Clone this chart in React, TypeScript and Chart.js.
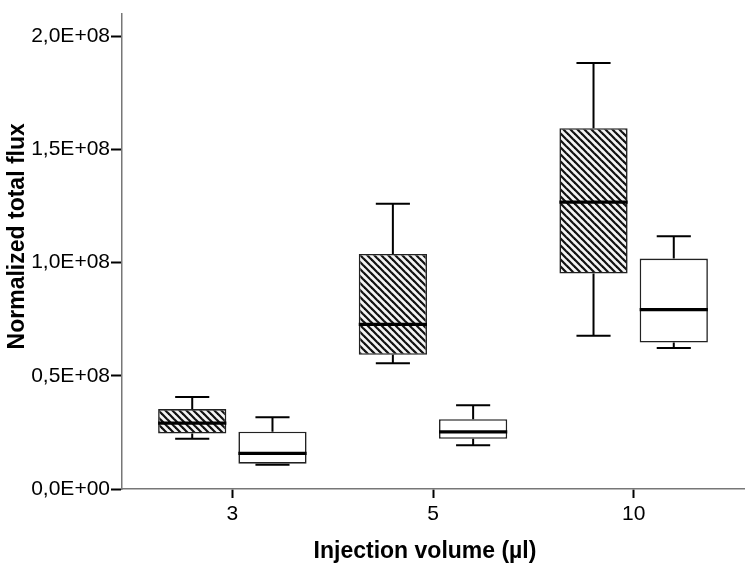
import React, { useEffect, useRef } from 'react';
import { Chart, registerables } from 'chart.js';

Chart.register(...registerables);

// ---- Data ----
const categories = ['3', '5', '10'];

// Hatched series (min, Q1, median, Q3, max)
const hatchedMin = [22.2e6, 55.6e6, 67.7e6];
const hatchedQ1 = [24.5e6, 59.3e6, 95.2e6];
const hatchedMedian = [29.1e6, 72.7e6, 126.7e6];
const hatchedQ3 = [35.3e6, 103.8e6, 159.4e6];
const hatchedMax = [40.6e6, 126.0e6, 188.2e6];

// White series (min, Q1, median, Q3, max)
const whiteMin = [10.7e6, 19.3e6, 62.3e6];
const whiteQ1 = [11.2e6, 22.2e6, 64.7e6];
const whiteMedian = [15.7e6, 25.2e6, 79.2e6];
const whiteQ3 = [25.3e6, 30.8e6, 101.8e6];
const whiteMax = [31.7e6, 37.0e6, 111.6e6];

const yTickValues = [0, 5e7, 1e8, 1.5e8, 2e8];
const yTickLabels = ['0,0E+00', '0,5E+08', '1,0E+08', '1,5E+08', '2,0E+08'];

const xTitle = 'Injection volume (µl)';
const yTitle = 'Normalized total flux';

const FONT = "'Liberation Sans', Arial, sans-serif";

function makeHatch(): CanvasPattern | string {
  const s = 7;
  const c = document.createElement('canvas');
  c.width = s;
  c.height = s;
  const ctx = c.getContext('2d');
  if (!ctx) return '#999';
  ctx.fillStyle = '#f4f4f4';
  ctx.fillRect(0, 0, s, s);
  ctx.strokeStyle = '#111';
  ctx.lineWidth = 2.2;
  for (const k of [-s, 0, s]) {
    ctx.beginPath();
    ctx.moveTo(k - 1, -1);
    ctx.lineTo(k + s + 1, s + 1);
    ctx.stroke();
  }
  const p = ctx.createPattern(c, 'repeat');
  return p || '#999';
}

const boxStats = [
  { min: hatchedMin, median: hatchedMedian, max: hatchedMax, q1: hatchedQ1, q3: hatchedQ3 },
  { min: whiteMin, median: whiteMedian, max: whiteMax, q1: whiteQ1, q3: whiteQ3 },
];

const whiskerPlugin = {
  id: 'whiskers',
  afterDatasetsDraw(chart: any) {
    const ctx = chart.ctx;
    const y = chart.scales.y;
    ctx.save();
    ctx.strokeStyle = '#000';
    chart.data.datasets.forEach((_: any, di: number) => {
      const meta = chart.getDatasetMeta(di);
      const st = boxStats[di];
      meta.data.forEach((el: any, j: number) => {
        const { x, width } = el.getProps(['x', 'width'], true);
        const yMax = y.getPixelForValue(st.max[j]);
        const yQ3 = y.getPixelForValue(st.q3[j]);
        const yQ1 = y.getPixelForValue(st.q1[j]);
        const yMin = y.getPixelForValue(st.min[j]);
        const yMed = y.getPixelForValue(st.median[j]);
        const cap = width / 4;
        ctx.lineWidth = 2;
        ctx.beginPath();
        ctx.moveTo(x, yQ3);
        ctx.lineTo(x, yMax);
        ctx.moveTo(x - cap, yMax);
        ctx.lineTo(x + cap, yMax);
        ctx.moveTo(x, yQ1);
        ctx.lineTo(x, yMin);
        ctx.moveTo(x - cap, yMin);
        ctx.lineTo(x + cap, yMin);
        ctx.stroke();
        ctx.lineWidth = 3.2;
        ctx.beginPath();
        ctx.moveTo(x - width / 2, yMed);
        ctx.lineTo(x + width / 2, yMed);
        ctx.stroke();
      });
    });
    ctx.restore();
  },
};

const titlePlugin = {
  id: 'axisTitles',
  afterDraw(chart: any) {
    const ctx = chart.ctx;
    const a = chart.chartArea;
    ctx.save();
    ctx.fillStyle = '#000';
    ctx.font = `bold 23px ${FONT}`;
    ctx.textAlign = 'center';
    ctx.textBaseline = 'alphabetic';
    ctx.fillText(xTitle, (a.left + a.right) / 2 - 8, a.bottom + 69);
    ctx.translate(24, (a.top + a.bottom) / 2 - 15);
    ctx.rotate(-Math.PI / 2);
    ctx.fillText(yTitle, 0, 0);
    ctx.restore();
  },
};

export default function App() {
  const ref = useRef<HTMLCanvasElement>(null);

  useEffect(() => {
    if (!ref.current) return;
    const hatch = makeHatch();
    const chart = new Chart(ref.current, {
      type: 'bar',
      data: {
        datasets: [
          {
            label: 'Hatched',
            data: categories.map((_, i) => ({ x: i, y: [hatchedQ1[i], hatchedQ3[i]] })) as any,
            backgroundColor: hatch as any,
            borderColor: '#222',
            borderWidth: 1.6,
            borderSkipped: false,
            categoryPercentage: 0.8,
            barPercentage: 0.85,
          },
          {
            label: 'White',
            data: categories.map((_, i) => ({ x: i, y: [whiteQ1[i], whiteQ3[i]] })) as any,
            backgroundColor: '#ffffff',
            borderColor: '#222',
            borderWidth: 1.6,
            borderSkipped: false,
            categoryPercentage: 0.8,
            barPercentage: 0.85,
          },
        ],
      },
      options: {
        animation: false,
        responsive: false,
        devicePixelRatio: 1,
        layout: { padding: { top: 3, right: 6, left: 0, bottom: 0 } },
        plugins: {
          legend: { display: false },
          tooltip: { enabled: false },
        },
        scales: {
          x: {
            type: 'linear',
            offset: false,
            min: -0.55,
            max: 2.55,
            afterBuildTicks: (s: any) => {
              s.ticks = categories.map((_, i) => ({ value: i }));
            },
            afterFit: (s: any) => {
              s.height = 81;
            },
            ticks: {
              callback: (v: any) => categories[v as number],
              font: { family: FONT, size: 21 },
              color: '#000',
              padding: 4,
              autoSkip: false,
              maxRotation: 0,
            },
            grid: {
              offset: false,
              drawOnChartArea: false,
              drawTicks: true,
              tickLength: 9,
              tickColor: '#000',
              tickWidth: 2,
            },
            border: { display: true, color: '#777', width: 1.5 },
          },
          y: {
            min: 0,
            max: 2.1e8,
            afterBuildTicks: (s: any) => {
              s.ticks = yTickValues.map((v) => ({ value: v }));
            },
            afterFit: (s: any) => {
              s.width = 122;
            },
            ticks: {
              callback: (v: any) => yTickLabels[yTickValues.indexOf(v as number)],
              font: { family: FONT, size: 21 },
              color: '#000',
              padding: 1,
            },
            grid: {
              drawOnChartArea: false,
              drawTicks: true,
              tickLength: 11,
              tickColor: '#000',
              tickWidth: 2,
            },
            border: { display: true, color: '#777', width: 1.5 },
          },
        },
      } as any,
      plugins: [whiskerPlugin, titlePlugin],
    });
    return () => chart.destroy();
  }, []);

  return (
    <div style={{ position: 'fixed', left: 0, top: 0, width: 750, height: 570, background: '#fff' }}>
      <canvas ref={ref} width={750} height={570} />
    </div>
  );
}
